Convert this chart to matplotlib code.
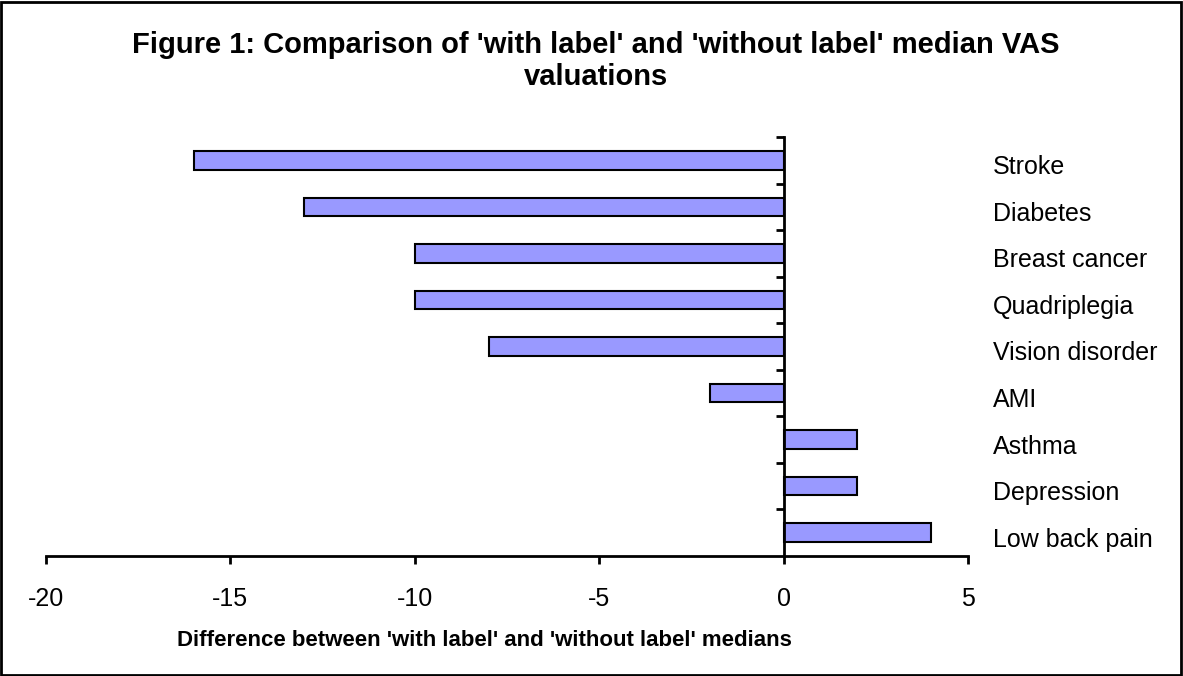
import matplotlib
matplotlib.use('Agg')
import matplotlib.pyplot as plt
from matplotlib.patches import Rectangle
from matplotlib.ticker import FixedLocator
import matplotlib.transforms as mtransforms

plt.rcParams['font.family'] = ['Liberation Sans', 'DejaVu Sans']

# Conditions, top to bottom, and their median differences
conditions = ['Stroke', 'Diabetes', 'Breast cancer', 'Quadriplegia', 'Vision disorder',
              'AMI', 'Asthma', 'Depression', 'Low back pain']
differences = [-16, -13, -10, -10, -8, -2, 2, 2, 4]
x_ticks = [-20, -15, -10, -5, 0, 5]

fig = plt.figure(figsize=(11.83, 6.76), dpi=100)
ax = fig.add_axes([46 / 1183, 1 - 556 / 676, (968 - 46) / 1183, (556 - 137) / 676])

# Stroke sits on top, so count positions down from the number of rows
n = len(conditions)
ypos = [n - 1 - i for i in range(n)]
ax.barh(ypos, differences, height=0.4, color='#9999FF', edgecolor='black', linewidth=1.5)

ax.set_xlim(-20, 5)
ax.set_ylim(-0.5, n - 0.5)

# Vertical axis runs through zero, ticks mark the category boundaries
for side in ['top', 'right']:
    ax.spines[side].set_visible(False)
ax.spines['left'].set_position(('data', 0))
ax.spines['left'].set_linewidth(2)
ax.spines['bottom'].set_linewidth(2)

ax.yaxis.set_major_locator(FixedLocator([i + 0.5 for i in range(n)]))
ax.set_yticklabels([])
ax.tick_params(axis='y', direction='out', length=6, width=2)

ax.set_xticks(x_ticks)
ax.set_xticklabels([str(t) for t in x_ticks])
ax.tick_params(axis='x', direction='out', length=6, width=2, labelsize=18, pad=16)

# Category names to the right of the plot area, baseline a little below row centre
trans = mtransforms.blended_transform_factory(ax.transAxes, ax.transData)
trans = mtransforms.offset_copy(trans, fig=fig, y=-10, units='points')
for y, name in zip(ypos, conditions):
    ax.text(1.027, y, name, transform=trans, fontsize=18, ha='left', va='baseline')

fig.text(0.504, 1 - 85 / 676, "Figure 1: Comparison of 'with label' and 'without label' median VAS\nvaluations",
         ha='center', va='baseline', fontsize=21, fontweight='bold', linespacing=1.2)
fig.text(484 / 1183, 1 - 646 / 676, "Difference between 'with label' and 'without label' medians",
         ha='center', va='baseline', fontsize=16, fontweight='bold')

# Frame around the whole chart
fig.patches.append(Rectangle((0.001, 0.002), 0.997, 0.995, transform=fig.transFigure,
                             fill=False, edgecolor='black', linewidth=2))

fig.savefig('out.png', dpi=100)
